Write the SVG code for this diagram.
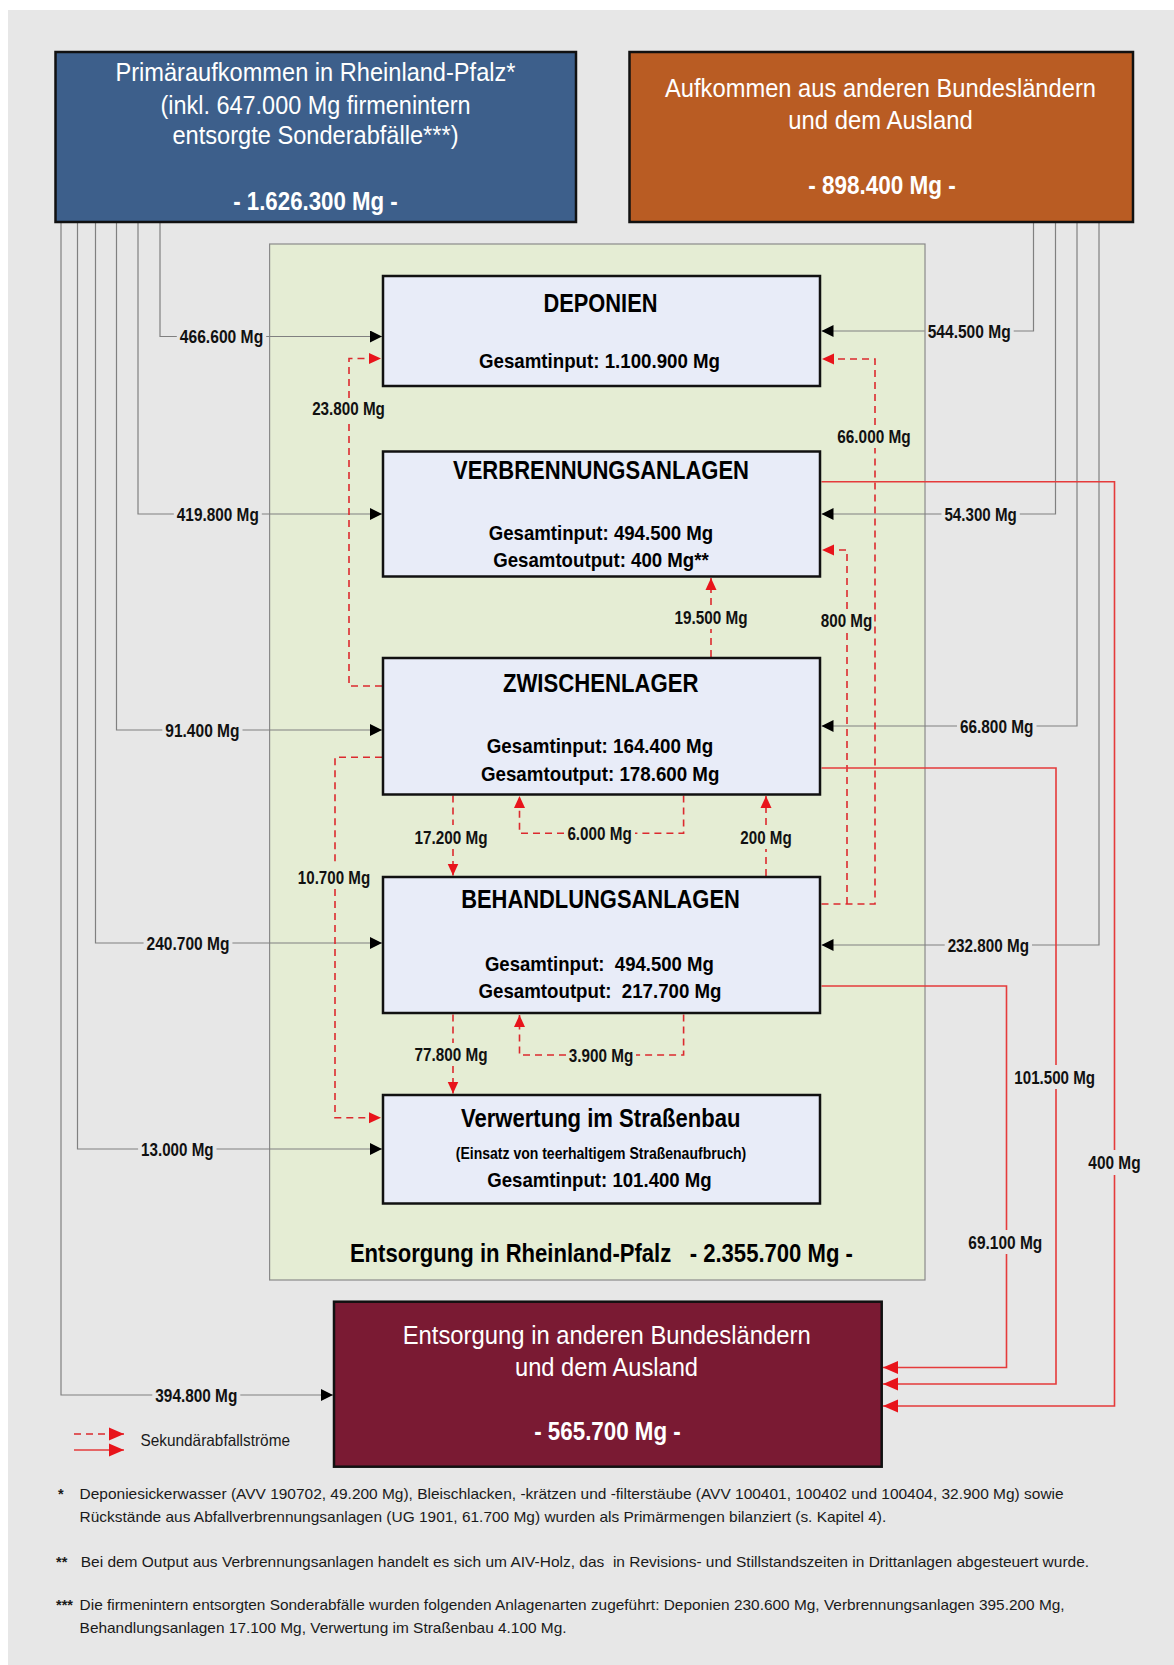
<svg xmlns="http://www.w3.org/2000/svg" width="1174" height="1665" viewBox="0 0 1174 1665">
<defs>
<style>
text{font-family:'Liberation Sans',Arial,sans-serif;}
.lab{font-size:19px;font-weight:bold;text-anchor:middle;fill:#111;}
.ttl{font-size:25.5px;font-weight:bold;text-anchor:middle;fill:#000;}
.inf{font-size:20.5px;font-weight:bold;text-anchor:middle;fill:#000;}
.sub{font-size:16px;font-weight:bold;text-anchor:middle;fill:#000;}
.wt{font-size:25px;text-anchor:middle;fill:#fff;}
.wb{font-size:25.5px;font-weight:bold;text-anchor:middle;fill:#fff;}
.cap{font-size:26px;font-weight:bold;text-anchor:middle;fill:#000;}
.fn{font-size:14.5px;fill:#1a1a1a;}
.fnm{font-size:14.5px;font-weight:bold;fill:#1a1a1a;}
.leg{font-size:16.5px;fill:#1a1a1a;}
.node{fill:#e8ecf8;stroke:#111;stroke-width:2.5;}
.g{fill:none;stroke:#808080;stroke-width:1.2;}
.rd{fill:none;stroke:#dc2a2e;stroke-width:1.6;stroke-dasharray:7 5;}
.rs{fill:none;stroke:#e53b3b;stroke-width:1.6;}
</style>
<marker id="ak" viewBox="0 0 12 12" markerWidth="12" markerHeight="12" refX="12" refY="6" orient="auto" markerUnits="userSpaceOnUse"><path d="M0,0L12,6L0,12z" fill="#000"/></marker>
<marker id="ar" viewBox="0 0 12 12" markerWidth="12" markerHeight="12" refX="12" refY="6" orient="auto" markerUnits="userSpaceOnUse"><path d="M0,0.5L12,6L0,11.5z" fill="#e8141b"/></marker>
<marker id="ar2" viewBox="0 0 15 14" markerWidth="15" markerHeight="14" refX="15" refY="7" orient="auto" markerUnits="userSpaceOnUse"><path d="M0,0.5L15,7L0,13.5z" fill="#e8141b"/></marker>
</defs>

<rect x="0" y="0" width="1174" height="1665" fill="#ffffff"/>
<rect x="8" y="10" width="1166" height="1655" fill="#e7e7e7"/>

<g id="rlp-area">
<rect x="269.6" y="244" width="655.4" height="1036" fill="#e5edd4" stroke="#8a8a8a" stroke-width="1.2"/>
<text class="cap" x="601.4" y="1262.3" textLength="503" lengthAdjust="spacingAndGlyphs">Entsorgung in Rheinland-Pfalz&#160;&#160; - 2.355.700 Mg -</text>
</g>

<g id="connectors">
<path class="g" d="M160,222V336.5H176.8"/>
<path class="g" marker-end="url(#ak)" d="M266.2,336.5H382"/>
<path class="g" d="M138,222V514H173.8"/>
<path class="g" marker-end="url(#ak)" d="M261.8,514H382"/>
<path class="g" d="M116.5,222V730H162.3"/>
<path class="g" marker-end="url(#ak)" d="M242.5,730H382"/>
<path class="g" d="M95.5,222V943H143.6"/>
<path class="g" marker-end="url(#ak)" d="M232.4,943H382"/>
<path class="g" d="M77.5,222V1149H138.1"/>
<path class="g" marker-end="url(#ak)" d="M216.5,1149H382"/>
<path class="g" d="M61,222V1395H152.3"/>
<path class="g" marker-end="url(#ak)" d="M240.3,1395H333"/>
<path class="g" d="M1033.5,222V331H1013.7"/>
<path class="g" marker-end="url(#ak)" d="M924.7,331H821.5"/>
<path class="g" d="M1055.5,222V514H1019.8"/>
<path class="g" marker-end="url(#ak)" d="M941.5,514H821.5"/>
<path class="g" d="M1077,222V726H1036.5"/>
<path class="g" marker-end="url(#ak)" d="M957,726H821.5"/>
<path class="g" d="M1099,222V945H1032"/>
<path class="g" marker-end="url(#ak)" d="M944.7,945H821.5"/>
<path class="rd" d="M382,686H349V420"/>
<path class="rd" marker-end="url(#ar)" d="M349,398V358.5H381"/>
<path class="rd" d="M821.5,904H875V448"/>
<path class="rd" marker-end="url(#ar)" d="M875,425V359H822"/>
<path class="rd" d="M847,904V632"/>
<path class="rd" marker-end="url(#ar)" d="M847,609V550H822"/>
<path class="rd" d="M711,657V629"/>
<path class="rd" marker-end="url(#ar)" d="M711,605V578"/>
<path class="rd" d="M453,795.5V825"/>
<path class="rd" marker-end="url(#ar)" d="M453,849V875.5"/>
<path class="rd" d="M683.6,795.5V833.3H635"/>
<path class="rd" marker-end="url(#ar)" d="M564,833.3H519.5V796"/>
<path class="rd" d="M766,876V849"/>
<path class="rd" marker-end="url(#ar)" d="M766,825V796"/>
<path class="rd" d="M382,757.3H335V866"/>
<path class="rd" marker-end="url(#ar)" d="M335,889V1117.7H381"/>
<path class="rd" d="M453,1014.5V1043"/>
<path class="rd" marker-end="url(#ar)" d="M453,1066V1093.5"/>
<path class="rd" d="M683.6,1014.5V1055H636"/>
<path class="rd" marker-end="url(#ar)" d="M566,1055H519.5V1015"/>
<path class="rs" d="M821.5,481.7H1114.5V1150"/>
<path class="rs" marker-end="url(#ar2)" d="M1114.5,1175V1406H883"/>
<path class="rs" d="M821.5,768H1056V1065"/>
<path class="rs" marker-end="url(#ar2)" d="M1056,1089V1384H883"/>
<path class="rs" d="M821.5,986H1006.5V1230"/>
<path class="rs" marker-end="url(#ar2)" d="M1006.5,1254V1367.5H883"/>
<text class="lab" x="221.5" y="343.3" textLength="83.4" lengthAdjust="spacingAndGlyphs">466.600 Mg</text>
<text class="lab" x="217.8" y="520.8" textLength="82" lengthAdjust="spacingAndGlyphs">419.800 Mg</text>
<text class="lab" x="202.4" y="736.8" textLength="74.2" lengthAdjust="spacingAndGlyphs">91.400 Mg</text>
<text class="lab" x="188" y="949.8" textLength="82.8" lengthAdjust="spacingAndGlyphs">240.700 Mg</text>
<text class="lab" x="177.3" y="1155.8" textLength="72.4" lengthAdjust="spacingAndGlyphs">13.000 Mg</text>
<text class="lab" x="196.3" y="1401.8" textLength="82" lengthAdjust="spacingAndGlyphs">394.800 Mg</text>
<text class="lab" x="969.2" y="337.8" textLength="83" lengthAdjust="spacingAndGlyphs">544.500 Mg</text>
<text class="lab" x="980.6" y="520.8" textLength="72.3" lengthAdjust="spacingAndGlyphs">54.300 Mg</text>
<text class="lab" x="996.7" y="732.8" textLength="73.5" lengthAdjust="spacingAndGlyphs">66.800 Mg</text>
<text class="lab" x="988.3" y="951.8" textLength="81.3" lengthAdjust="spacingAndGlyphs">232.800 Mg</text>
<text class="lab" x="348.5" y="415.3" textLength="72.7" lengthAdjust="spacingAndGlyphs">23.800 Mg</text>
<text class="lab" x="874" y="443.3" textLength="73.5" lengthAdjust="spacingAndGlyphs">66.000 Mg</text>
<text class="lab" x="846.5" y="626.8" textLength="51.5" lengthAdjust="spacingAndGlyphs">800 Mg</text>
<text class="lab" x="711" y="623.5" textLength="73" lengthAdjust="spacingAndGlyphs">19.500 Mg</text>
<text class="lab" x="451" y="843.5" textLength="73" lengthAdjust="spacingAndGlyphs">17.200 Mg</text>
<text class="lab" x="599.6" y="840.1" textLength="64.4" lengthAdjust="spacingAndGlyphs">6.000 Mg</text>
<text class="lab" x="766" y="843.5" textLength="51.4" lengthAdjust="spacingAndGlyphs">200 Mg</text>
<text class="lab" x="334" y="884.1" textLength="72.3" lengthAdjust="spacingAndGlyphs">10.700 Mg</text>
<text class="lab" x="451" y="1061.1" textLength="73" lengthAdjust="spacingAndGlyphs">77.800 Mg</text>
<text class="lab" x="601" y="1061.8" textLength="64.4" lengthAdjust="spacingAndGlyphs">3.900 Mg</text>
<text class="lab" x="1114.5" y="1169.2" textLength="52.3" lengthAdjust="spacingAndGlyphs">400 Mg</text>
<text class="lab" x="1054.7" y="1083.5" textLength="80.7" lengthAdjust="spacingAndGlyphs">101.500 Mg</text>
<text class="lab" x="1005.3" y="1248.8" textLength="74" lengthAdjust="spacingAndGlyphs">69.100 Mg</text>
</g>

<g id="primaer-rlp">
<rect x="55.5" y="52" width="520.5" height="170" fill="#3d5f8b" stroke="#111" stroke-width="2.5"/>
<text class="wt" x="315.5" y="80.5" textLength="400" lengthAdjust="spacingAndGlyphs">Primäraufkommen in Rheinland-Pfalz*</text>
<text class="wt" x="315.5" y="113.5" textLength="310" lengthAdjust="spacingAndGlyphs">(inkl. 647.000 Mg firmenintern</text>
<text class="wt" x="315.5" y="144" textLength="286" lengthAdjust="spacingAndGlyphs">entsorgte Sonderabfälle***)</text>
<text class="wb" x="315.5" y="210" textLength="164.6" lengthAdjust="spacingAndGlyphs">- 1.626.300 Mg -</text>
</g>

<g id="aufkommen-andere">
<rect x="629.5" y="52" width="503.5" height="170" fill="#b95c23" stroke="#111" stroke-width="2.5"/>
<text class="wt" x="880.5" y="97" textLength="431" lengthAdjust="spacingAndGlyphs">Aufkommen aus anderen Bundesländern</text>
<text class="wt" x="880.5" y="128.5" textLength="184.5" lengthAdjust="spacingAndGlyphs">und dem Ausland</text>
<text class="wb" x="882" y="193.5" textLength="147.7" lengthAdjust="spacingAndGlyphs">- 898.400 Mg -</text>
</g>

<g id="deponien">
<rect class="node" x="383" y="276" width="437" height="110"/>
<text class="ttl" x="600.5" y="311.7" textLength="114" lengthAdjust="spacingAndGlyphs">DEPONIEN</text>
<text class="inf" x="599.5" y="367.7" textLength="241" lengthAdjust="spacingAndGlyphs">Gesamtinput: 1.100.900 Mg</text>
</g>

<g id="verbrennungsanlagen">
<rect class="node" x="383" y="451.5" width="437" height="125"/>
<text class="ttl" x="601" y="479" textLength="296" lengthAdjust="spacingAndGlyphs">VERBRENNUNGSANLAGEN</text>
<text class="inf" x="601" y="540" textLength="224.5" lengthAdjust="spacingAndGlyphs">Gesamtinput: 494.500 Mg</text>
<text class="inf" x="601" y="566.7" textLength="215.6" lengthAdjust="spacingAndGlyphs">Gesamtoutput: 400 Mg**</text>
</g>

<g id="zwischenlager">
<rect class="node" x="383" y="658" width="437" height="136.5"/>
<text class="ttl" x="600.7" y="691.5" textLength="195.5" lengthAdjust="spacingAndGlyphs">ZWISCHENLAGER</text>
<text class="inf" x="600" y="753" textLength="226.5" lengthAdjust="spacingAndGlyphs">Gesamtinput: 164.400 Mg</text>
<text class="inf" x="600.2" y="780.5" textLength="238.5" lengthAdjust="spacingAndGlyphs">Gesamtoutput: 178.600 Mg</text>
</g>

<g id="behandlungsanlagen">
<rect class="node" x="383" y="877" width="437" height="136"/>
<text class="ttl" x="600.5" y="908" textLength="278.7" lengthAdjust="spacingAndGlyphs">BEHANDLUNGSANLAGEN</text>
<text class="inf" x="599.4" y="970.7" textLength="229" lengthAdjust="spacingAndGlyphs">Gesamtinput:&#160; 494.500 Mg</text>
<text class="inf" x="600" y="998.3" textLength="243" lengthAdjust="spacingAndGlyphs">Gesamtoutput:&#160; 217.700 Mg</text>
</g>

<g id="strassenbau">
<rect class="node" x="383" y="1095" width="437" height="108.5"/>
<text class="ttl" x="600.7" y="1126.7" textLength="279.4" lengthAdjust="spacingAndGlyphs">Verwertung im Straßenbau</text>
<text class="sub" x="601" y="1159.3" textLength="290.5" lengthAdjust="spacingAndGlyphs">(Einsatz von teerhaltigem Straßenaufbruch)</text>
<text class="inf" x="599.5" y="1187.3" textLength="224.5" lengthAdjust="spacingAndGlyphs">Gesamtinput: 101.400 Mg</text>
</g>

<g id="entsorgung-andere">
<rect x="334" y="1301.7" width="547.7" height="165" fill="#7a1a33" stroke="#111" stroke-width="2.5"/>
<text class="wt" x="606.7" y="1343.5" textLength="408" lengthAdjust="spacingAndGlyphs">Entsorgung in anderen Bundesländern</text>
<text class="wt" x="606.5" y="1376.2" textLength="183" lengthAdjust="spacingAndGlyphs">und dem Ausland</text>
<text class="wb" x="607.5" y="1440.2" textLength="146.6" lengthAdjust="spacingAndGlyphs">- 565.700 Mg -</text>
</g>

<g id="legend">
<path class="rd" marker-end="url(#ar2)" d="M74,1434H124"/>
<path class="rs" marker-end="url(#ar2)" d="M74,1450H124"/>
<text class="leg" x="140.5" y="1445.5" textLength="149.5" lengthAdjust="spacingAndGlyphs">Sekundärabfallströme</text>
</g>

<g id="footnotes">
<text class="fnm" x="58" y="1499">*</text>
<text class="fn" x="79.6" y="1499" textLength="984" lengthAdjust="spacingAndGlyphs">Deponiesickerwasser (AVV 190702, 49.200 Mg), Bleischlacken, -krätzen und -filterstäube (AVV 100401, 100402 und 100404, 32.900 Mg) sowie</text>
<text class="fn" x="79.6" y="1522" textLength="806.7" lengthAdjust="spacingAndGlyphs">Rückstände aus Abfallverbrennungsanlagen (UG 1901, 61.700 Mg) wurden als Primärmengen bilanziert (s. Kapitel 4).</text>
<text class="fnm" x="56" y="1567">**</text>
<text class="fn" x="80.7" y="1567" textLength="1008.4" lengthAdjust="spacingAndGlyphs">Bei dem Output aus Verbrennungsanlagen handelt es sich um AIV-Holz, das&#160; in Revisions- und Stillstandszeiten in Drittanlagen abgesteuert wurde.</text>
<text class="fnm" x="56" y="1610">***</text>
<text class="fn" x="79.6" y="1610" textLength="985" lengthAdjust="spacingAndGlyphs">Die firmenintern entsorgten Sonderabfälle wurden folgenden Anlagenarten zugeführt: Deponien 230.600 Mg, Verbrennungsanlagen 395.200 Mg,</text>
<text class="fn" x="79.6" y="1633" textLength="487" lengthAdjust="spacingAndGlyphs">Behandlungsanlagen 17.100 Mg, Verwertung im Straßenbau 4.100 Mg.</text>
</g>
</svg>
